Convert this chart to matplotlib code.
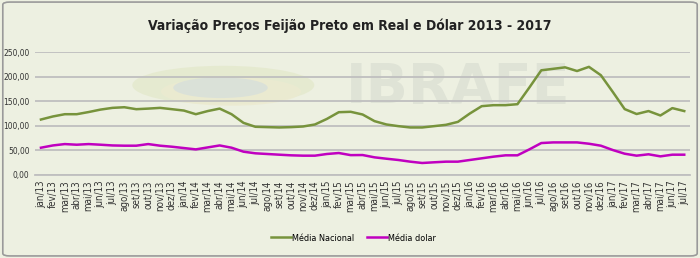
import matplotlib.pyplot as plt
from matplotlib.patches import Ellipse, FancyBboxPatch

meses = ['jan', 'fev', 'mar', 'abr', 'mai', 'jun', 'jul', 'ago', 'set', 'out', 'nov', 'dez']
labels = []
for ano in range(13, 18):
    for m in meses:
        labels.append(m + '/' + str(ano))
labels = labels[:55]  # jan/13 .. jul/17

media_nacional = [112.8, 119, 123.6, 123.6, 128, 133, 136.5, 137.8, 133.8, 135, 136.5, 133.8,
                  131, 123.6, 130, 135, 123.6, 106, 98, 97.3, 96.6, 97.3, 98.6, 102.7,
                  114, 127.7, 128.5, 123, 109.5, 102.7, 99.3, 96.6, 96.6, 99.3, 102, 108,
                  125, 140, 142, 142, 144, 178, 213, 216, 219, 211.5, 220, 203,
                  169, 134, 124, 130, 121, 136, 130]
media_dolar = [55.4, 60, 62.8, 61.5, 62.8, 61.5, 60, 59.5, 59.5, 62.8, 59.5, 57.4,
               54.7, 52, 56, 60, 55.4, 47.3, 44, 42.6, 41.2, 39.9, 39.2, 39.2,
               42.6, 44.6, 40.3, 40.5, 35.8, 33, 30.4, 27, 24.3, 25.7, 27, 27,
               30.4, 33.8, 37.2, 39.9, 39.9, 52, 64.9, 66.2, 66.2, 66.2, 63.5, 59.5,
               50.7, 43.2, 39.2, 42, 37.8, 41.2, 41.2]

plt.rcParams['font.family'] = ['DejaVu Sans']
plt.rcParams['font.stretch'] = 'condensed'
bg = '#edf0e1'

fig = plt.figure(figsize=(7, 2.58), dpi=100, facecolor=bg)
fig.patches.append(FancyBboxPatch((0.004, 0.008), 0.992, 0.984, boxstyle='round,pad=0,rounding_size=0.01',
                                  transform=fig.transFigure, fc='none', ec='#9a9a9a', lw=1.2))

# marca d'agua
fig.patches.append(Ellipse((0.319, 0.67), 0.26, 0.15, transform=fig.transFigure, fc='#e4e9cc', ec='none', alpha=0.8))
fig.patches.append(Ellipse((0.33, 0.645), 0.2, 0.11, transform=fig.transFigure, fc='#ecead0', ec='none', alpha=0.8))
fig.patches.append(Ellipse((0.315, 0.66), 0.135, 0.08, transform=fig.transFigure, fc='#d9e0da', ec='none', alpha=0.9))
fig.text(0.655, 0.66, 'IBRAFE', fontsize=40, fontweight='bold', color='#dfe3d6', ha='center', va='center',
         fontstretch='normal', zorder=0)

ax = fig.add_axes([0.05, 0.322, 0.936, 0.476])
ax.set_zorder(2)
ax.set_facecolor('none')
x = list(range(len(labels)))
ax.plot(x, media_nacional, color='#77933c', lw=1.8, label='Média Nacional', zorder=3)
ax.plot(x, media_dolar, color='#c000c0', lw=1.8, label='Média dolar', zorder=3)

ax.set_xlim(-0.5, 54.5)
ax.set_ylim(0, 250)
ax.set_yticks([0, 50, 100, 150, 200, 250])
ax.set_yticklabels(['0,00', '50,00', '100,00', '150,00', '200,00', '250,00'], fontsize=6)
ax.set_xticks(x)
ax.set_xticklabels(labels, rotation=90, fontsize=7)
ax.tick_params(length=0, pad=4, labelcolor='#333333')
ax.grid(axis='y', color='#bfbfbf', lw=1.3)
ax.set_axisbelow(True)
for s in ['top', 'right', 'left']:
    ax.spines[s].set_visible(False)
ax.spines['bottom'].set_color('#bfbfbf')
ax.spines['bottom'].set_linewidth(1.3)

fig.text(0.5, 0.9, 'Variação Preços Feijão Preto em Real e Dólar 2013 - 2017', ha='center', va='center',
         fontsize=10, fontweight='bold', color='#222222')
fig.legend(loc='center', bbox_to_anchor=(0.505, 0.077), ncol=2, frameon=False,
           prop={'size': 6.5, 'stretch': 'condensed'}, handlelength=2.2, handletextpad=0.1, columnspacing=1.5)

plt.savefig('out.png', dpi=100, facecolor=bg)
